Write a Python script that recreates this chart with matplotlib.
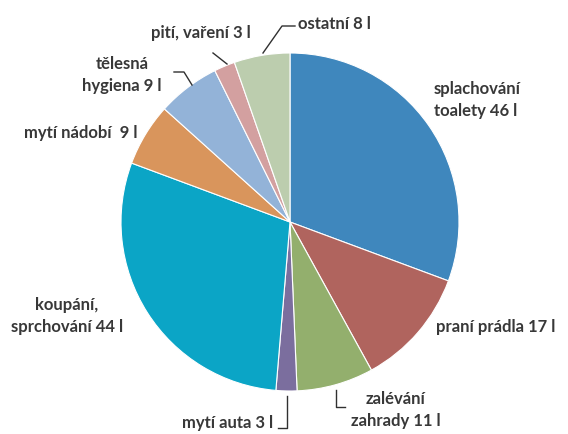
import matplotlib.pyplot as plt

# denní spotřeba vody na osobu (litry)
labels = ["splachování\ntoalety 46 l", "praní prádla 17 l", "zalévání\nzahrady 11 l",
          "mytí auta 3 l", "koupání,\nsprchování 44 l", "mytí nádobí  9 l",
          "tělesná\nhygiena 9 l", "pití, vaření 3 l", "ostatní 8 l"]
values = [46, 17, 11, 3, 44, 9, 9, 3, 8]
colors = ["#3F87BD", "#B0645E", "#93AF6D", "#7B6E9E", "#0BA5C6",
          "#D9955C", "#93B3D8", "#D3A0A0", "#BCCDAE"]

# label positions in pixels (x, y from top), alignment
label_pos = [(434, 100, "left"), (436, 327, "left"), (396, 410, "center"),
             (273, 423, "right"), (67, 316, "center"), (138, 133, "right"),
             (122, 75, "center"), (201, 33, "center"), (298, 24, "left")]
# leader lines in pixels, None where there is none
leaders = [None, None, [(336, 390), (336, 407), (345, 407)],
           [(287, 396), (287, 428), (278, 428)], None, None,
           [(192, 85), (184, 72), (174, 72)], [(227, 64), (213, 53)],
           [(263, 53), (282, 26), (295, 26)]]

W, H = 568, 434
fig = plt.figure(figsize=(W / 100, H / 100), dpi=100)
ax = fig.add_axes([0, 0, 1, 1])

ax.pie(values, colors=colors, startangle=90, counterclock=False,
       center=(290, H - 222), radius=169,
       wedgeprops=dict(edgecolor="white", linewidth=0.8))

ax.set_xlim(0, W)
ax.set_ylim(0, H)
ax.set_aspect("equal")
ax.axis("off")

for lab, (x, y, ha) in zip(labels, label_pos):
    ax.text(x, H - y, lab, ha=ha, va="center", fontsize=12, family="Lato",
            fontweight="bold", color="#383838", linespacing=1.5,
            multialignment="center" if ha == "center" else "left")

for pts in leaders:
    if pts:
        ax.plot([p[0] for p in pts], [H - p[1] for p in pts], color="#303030", lw=1)

fig.savefig("out.png", dpi=100)
